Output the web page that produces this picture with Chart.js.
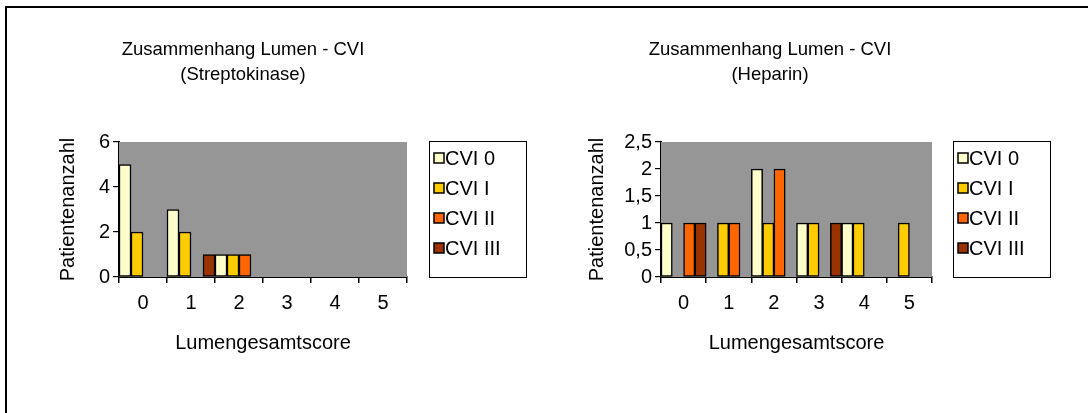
<!DOCTYPE html>
<html>
<head>
<meta charset="utf-8">
<script src="https://cdn.jsdelivr.net/npm/chart.js@4.4.1/dist/chart.umd.min.js"></script>
<style>
  html, body { margin: 0; padding: 0; background: #fff; width: 1088px; height: 413px; overflow: hidden; }
  #frame { position: absolute; left: 5px; top: 6px; width: 1090px; height: 420px; border-left: 2px solid #000; border-top: 2px solid #000; }
  canvas { position: absolute; top: 0; }
  #c1 { left: 0; }
  #c2 { left: 544px; }
</style>
</head>
<body>
<div id="frame"></div>
<canvas id="c1" width="544" height="413"></canvas>
<canvas id="c2" width="544" height="413"></canvas>
<script>
// ---- data ----
const categories = ['0', '1', '2', '3', '4', '5'];
const seriesNames = ['CVI 0', 'CVI I', 'CVI II', 'CVI III'];
const seriesColors = ['#FFFFCC', '#FFCC00', '#FF6600', '#993300'];

const streptoCVI0   = [5, 3, 1, 0, 0, 0];
const streptoCVI1   = [2, 2, 1, 0, 0, 0];
const streptoCVI2   = [0, 0, 1, 0, 0, 0];
const streptoCVI3   = [0, 1, 0, 0, 0, 0];

const heparinCVI0   = [1, 0, 2, 1, 1, 0];
const heparinCVI1   = [0, 1, 1, 1, 1, 1];
const heparinCVI2   = [1, 1, 2, 0, 0, 0];
const heparinCVI3   = [1, 0, 0, 1, 0, 0];

const titleLeft  = ['Zusammenhang Lumen - CVI', '(Streptokinase)'];
const titleRight = ['Zusammenhang Lumen - CVI', '(Heparin)'];
const yTitle = 'Patientenanzahl';
const xTitle = 'Lumengesamtscore';

const FONT = "'Liberation Sans', Arial, sans-serif";
const FS = 20;
const TFS = 18.5;

const panelPlugin = {
  id: 'panel',
  beforeDatasetsDraw(chart) {
    const {ctx, chartArea: a} = chart;
    ctx.save();
    ctx.fillStyle = '#969696';
    ctx.fillRect(a.left, a.top, a.right - a.left, a.bottom - a.top);
    ctx.restore();
  },
  afterDraw(chart, args, opts) {
    const {ctx} = chart;
    ctx.save();
    // titles
    ctx.fillStyle = '#000';
    ctx.font = TFS + 'px ' + FONT;
    ctx.textAlign = 'center';
    ctx.textBaseline = 'middle';
    opts.title.forEach((t, i) => ctx.fillText(t, opts.titleX, opts.titleY + i * 25));
    // legend
    const L = opts.legend;
    ctx.font = FS + 'px ' + FONT;
    ctx.strokeStyle = '#000';
    ctx.lineWidth = 1;
    ctx.strokeRect(L.x + 0.5, L.y + 0.5, L.w, L.h);
    ctx.textAlign = 'left';
    chart.data.datasets.forEach((ds, i) => {
      const cy = L.y + 17 + i * 30;
      ctx.fillStyle = ds.backgroundColor;
      ctx.fillRect(L.x + 5, cy - 5, 10, 10);
      ctx.lineWidth = 1.5;
      ctx.strokeRect(L.x + 5, cy - 5, 10, 10);
      ctx.fillStyle = '#000';
      ctx.fillText(ds.label, L.x + 16, cy + 1);
    });
    ctx.restore();
  }
};

function makeChart(id, series, yMax, yStep, yWidth, padLeft, padRight, title, titleX, legendX, fmt) {
  const datasets = series.map((d, i) => ({
    label: seriesNames[i],
    data: d,
    backgroundColor: seriesColors[i],
    borderColor: '#000',
    borderWidth: 1.5,
    borderSkipped: false,
    categoryPercentage: 1.0,
    barPercentage: 1.0
  }));
  return new Chart(document.getElementById(id), {
    type: 'bar',
    data: { labels: categories, datasets },
    plugins: [panelPlugin],
    options: {
      responsive: false,
      devicePixelRatio: 1,
      animation: false,
      layout: { padding: { left: padLeft, right: padRight, top: 142, bottom: 56 } },
      plugins: {
        legend: { display: false },
        tooltip: { enabled: false },
        title: { display: false },
        panel: { title, titleX, titleY: 50, legend: { x: legendX, y: 141, w: 97, h: 136 } }
      },
      scales: {
        x: {
          grid: { display: true, drawOnChartArea: false, drawTicks: true, tickLength: 6, tickColor: '#000', offset: true, lineWidth: 1.5 },
          border: { display: true, color: '#000', width: 2 },
          ticks: { color: '#000', font: { family: FONT, size: FS }, padding: 8, maxRotation: 0 },
          title: { display: true, text: xTitle, color: '#000', font: { family: FONT, size: FS }, padding: { top: 0, bottom: 2 } },
          afterFit: s => { s.height = 80; }
        },
        y: {
          min: 0, max: yMax,
          grid: {
            color: c => (c.tick && (c.tick.value === 0 || c.tick.value === yMax)) ? 'rgba(0,0,0,0)' : '#000',
            lineWidth: 1.2, tickLength: 6, tickColor: '#000', drawTicks: true
          },
          border: { display: true, color: '#000', width: 2 },
          ticks: { stepSize: yStep, color: '#000', font: { family: FONT, size: FS }, padding: 3, callback: fmt },
          title: { display: true, text: yTitle, color: '#000', font: { family: FONT, size: FS }, padding: { top: 0, bottom: 0 } },
          afterFit: s => { s.width = yWidth; }
        }
      }
    }
  });
}

const fmtComma = v => String(v).replace('.', ',');

// left: chart area 119..407 ; right: 117..388 (local)
makeChart('c1', [streptoCVI0, streptoCVI1, streptoCVI2, streptoCVI3], 6, 2, 63, 56, 137,
  titleLeft, 243, 429, fmtComma);
makeChart('c2', [heparinCVI0, heparinCVI1, heparinCVI2, heparinCVI3], 2.5, 0.5, 76, 41, 156,
  titleRight, 226, 409, fmtComma);
</script>
</body>
</html>
